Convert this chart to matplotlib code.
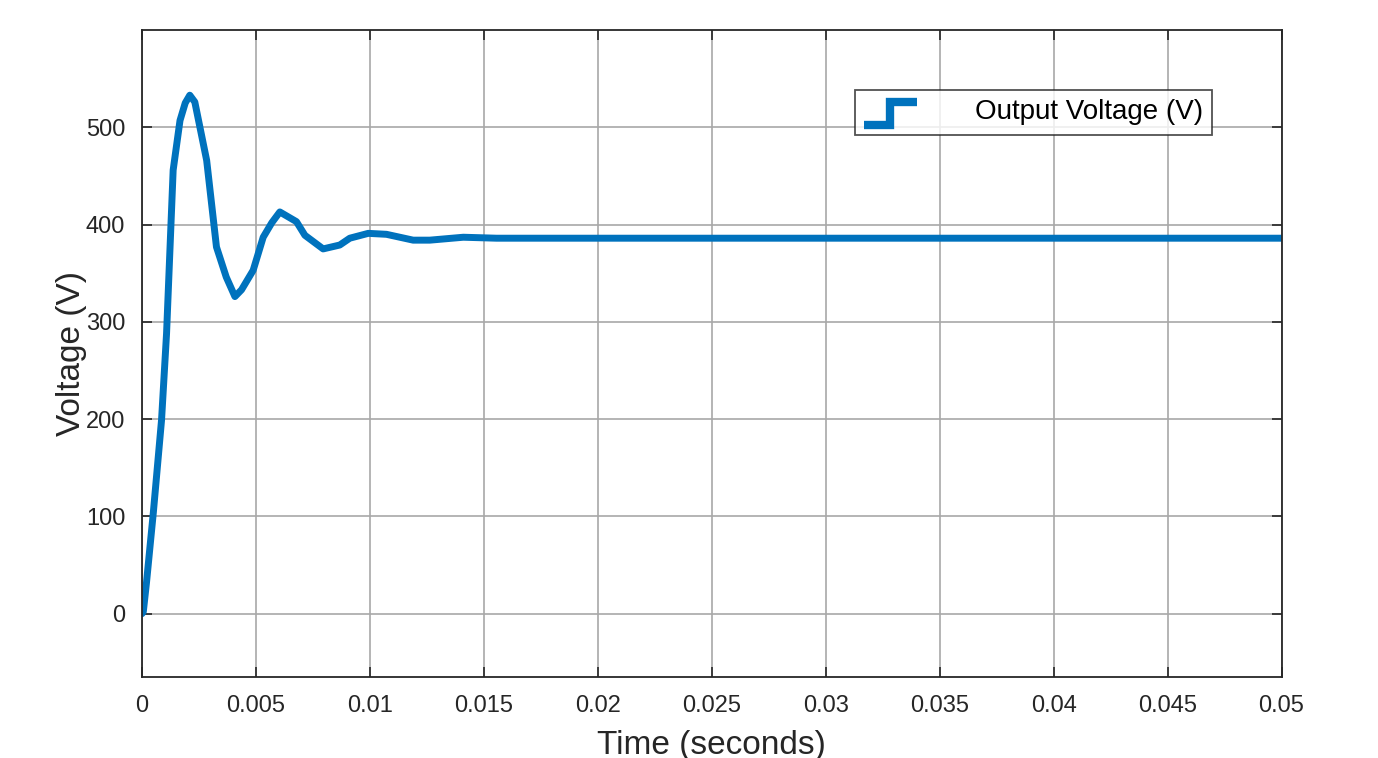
import matplotlib
matplotlib.use('Agg')
import matplotlib.pyplot as plt
from matplotlib.legend_handler import HandlerLine2D
from matplotlib.lines import Line2D

# Output voltage
time_s = [0.0, 0.00006, 0.0002, 0.0005, 0.00086, 0.00108, 0.00137, 0.00167,
          0.0019, 0.0021, 0.00232, 0.00284, 0.00327, 0.0037, 0.00408, 0.00437,
          0.00488, 0.00532, 0.0057, 0.00605, 0.00678, 0.00715, 0.00795, 0.00868,
          0.00912, 0.00993, 0.01073, 0.0119, 0.01263, 0.0141, 0.01556, 0.017,
          0.02, 0.03, 0.04, 0.05]
voltage_v = [0, 2, 32, 104, 199, 288, 456, 507,
             525, 533, 526, 466, 377, 346, 326, 333,
             353, 387, 402, 413, 403, 389, 375, 379,
             386, 391, 390, 384, 384, 387, 386, 386,
             386, 386, 386, 386]

x_ticks = [0, 0.005, 0.01, 0.015, 0.02, 0.025, 0.03, 0.035, 0.04, 0.045, 0.05]
x_tick_labels = ['0', '0.005', '0.01', '0.015', '0.02', '0.025', '0.03',
                 '0.035', '0.04', '0.045', '0.05']
y_ticks = [0, 100, 200, 300, 400, 500]

line_color = '#0072BD'
text_color = '#262626'


class StepHandler(HandlerLine2D):
    """Legend icon drawn as a little step, like the scope legend."""
    def create_artists(self, legend, orig_handle, xdescent, ydescent,
                       width, height, fontsize, trans):
        x0 = -xdescent
        y0 = -ydescent
        xs = [x0, x0 + 0.5 * width, x0 + 0.5 * width, x0 + width]
        ys = [y0 - 0.3 * height, y0 - 0.3 * height,
              y0 + 0.9 * height, y0 + 0.9 * height]
        ln = Line2D(xs, ys, color=orig_handle.get_color(), linewidth=6,
                    solid_joinstyle='miter', solid_capstyle='butt')
        ln.set_transform(trans)
        return [ln]


plt.rcParams['font.family'] = ['Liberation Sans', 'DejaVu Sans']

fig = plt.figure(figsize=(13.78, 7.58), dpi=100)
ax = fig.add_axes([0.103, 0.1069, 0.827, 0.8535])

line, = ax.plot(time_s, voltage_v, color=line_color, linewidth=5,
                solid_joinstyle='round', solid_capstyle='round',
                label='Output Voltage (V)')

ax.set_xlim(0, 0.05)
ax.set_ylim(-65, 600)
ax.set_xticks(x_ticks)
ax.set_xticklabels(x_tick_labels)
ax.set_yticks(y_ticks)

ax.grid(True, color='#a8a8a8', linewidth=1.2)
ax.set_axisbelow(True)
ax.tick_params(direction='in', length=7, width=1.2, top=True, right=True,
               labelsize=17, colors=text_color)
ax.tick_params(axis='x', pad=13)
ax.tick_params(axis='y', pad=12)
for sp in ax.spines.values():
    sp.set_linewidth(1.3)
    sp.set_color(text_color)

ax.set_xlabel('Time (seconds)', fontsize=24, color=text_color, labelpad=9)
ax.set_ylabel('Voltage (V)', fontsize=24, color=text_color, labelpad=-1)

leg = ax.legend(handles=[line], handler_map={line: StepHandler()},
                loc='upper left', bbox_to_anchor=(0.6254, 0.907),
                fontsize=20, frameon=True, fancybox=False, handlelength=1.9,
                handletextpad=2.1, borderpad=0.33, borderaxespad=0,
                edgecolor=text_color)
leg.get_frame().set_linewidth(1.3)

fig.savefig('out.png', dpi=100)
